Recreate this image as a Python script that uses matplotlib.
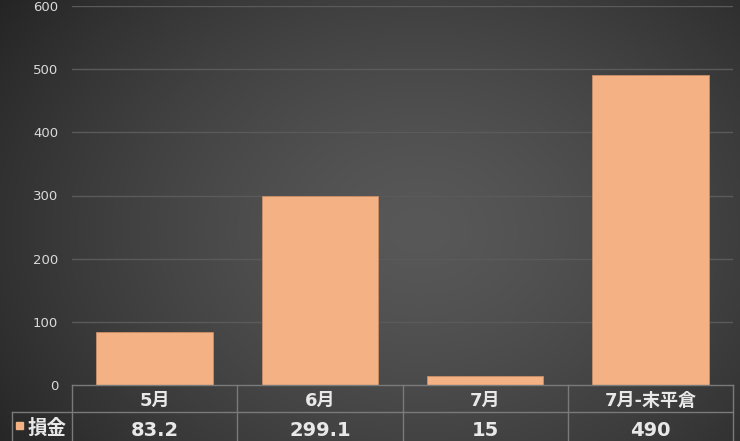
import matplotlib.pyplot as plt
import numpy as np

plt.rcParams['font.family'] = ['DejaVu Sans', 'Noto Sans CJK JP']

# Data
categories = ['5月', '6月', '7月', '7月-末平倉']
values = [83.2, 299.1, 15, 490]
value_labels = ['83.2', '299.1', '15', '490']
series_name = '損金'
yticks = [0, 100, 200, 300, 400, 500, 600]

bar_color = '#F4B183'
line_color = '#7a7a7a'
text_color = '#E8E8E8'

fig = plt.figure(figsize=(7.4, 4.41), dpi=100)

# Radial gradient background
bg = fig.add_axes([0, 0, 1, 1], zorder=-10)
yy, xx = np.mgrid[0:441, 0:740]
r = np.sqrt(((xx - 420) / 520.0) ** 2 + ((yy - 230) / 400.0) ** 2)
r = np.clip(r, 0, 1) ** 1.4
c0 = np.array([0x58, 0x58, 0x58]) / 255.0
c1 = np.array([0x24, 0x24, 0x24]) / 255.0
img = c0[None, None, :] * (1 - r[..., None]) + c1[None, None, :] * r[..., None]
bg.imshow(img, aspect='auto', extent=[0, 1, 0, 1])
bg.axis('off')

W, H = 740.0, 441.0
left, right, bottom, top = 72, 733, 385, 6
ax = fig.add_axes([left / W, (H - bottom) / H, (right - left) / W, (bottom - top) / H])
ax.patch.set_alpha(0)

x = np.arange(len(categories))
ax.bar(x, values, width=0.706, color=bar_color, edgecolor='#c98f68', linewidth=0.6, zorder=3)

ax.set_xlim(-0.5, len(categories) - 0.5)
ax.set_ylim(0, 600)
ax.set_yticks(yticks)
ax.set_yticklabels([str(t) for t in yticks], fontsize=9.5, color='#DADADA')
ax.tick_params(axis='y', length=0, pad=10)
ax.set_xticks([])
for s in ax.spines.values():
    s.set_visible(False)
for t in yticks[1:]:
    ax.axhline(t, color='#5a5a5a', linewidth=1.0, zorder=1)

# Data table below the axis
ax_h = bottom - top
row1 = -27 / ax_h          # bottom of header row
row2 = -60 / ax_h          # below figure edge
lbl_left = -0.5 - (left - 12) / ((right - left) / len(categories))
kw = dict(color=line_color, linewidth=1.0, clip_on=False, zorder=5)
trans = ax.get_xaxis_transform()
ax.plot([-0.5, 3.5], [0, 0], transform=trans, **kw)
ax.plot([lbl_left, 3.5], [row1, row1], transform=trans, **kw)
ax.plot([lbl_left, lbl_left], [row1, row2], transform=trans, **kw)
for b in np.arange(-0.5, len(categories) + 0.5, 1):
    ax.plot([b, b], [0, row2], transform=trans, **kw)

hdr_y = -16 / ax_h
val_y = -45 / ax_h
for i, (cat, lab) in enumerate(zip(categories, value_labels)):
    ax.text(i, hdr_y, cat, transform=trans, ha='center', va='center',
            fontsize=13, fontweight='bold', color=text_color)
    ax.text(i, val_y, lab, transform=trans, ha='center', va='center',
            fontsize=14, fontweight='bold', color=text_color)

# legend key + series name
fig.patches.append(plt.Rectangle((16 / W, (H - 429) / H), 7 / W, 7 / H,
                                 transform=fig.transFigure, color=bar_color))
fig.text(28 / W, (H - 428) / H, series_name, ha='left', va='center',
         fontsize=14, fontweight='bold', color=text_color)

fig.savefig('out.png', dpi=100)
